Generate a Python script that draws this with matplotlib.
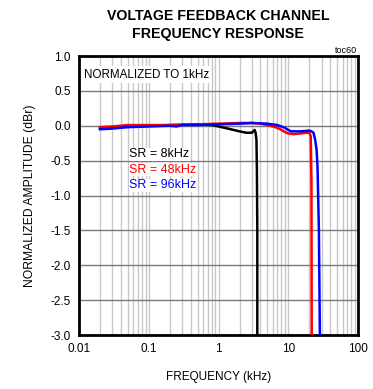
import matplotlib
matplotlib.use("Agg")
import matplotlib.pyplot as plt
from matplotlib.ticker import LogLocator, FixedLocator, NullFormatter
import numpy as np

plt.rcParams['font.family'] = ['Liberation Sans', 'DejaVu Sans']

# frequency (kHz) / normalized amplitude (dBr) for each sample rate
freq_8k = [0.02, 0.03, 0.05, 0.1, 0.2, 0.5, 0.8, 1.0, 1.5, 2.0, 2.5, 3.0, 3.3, 3.4, 3.5, 3.55, 3.6, 3.6]
amp_8k = [-0.03, -0.02, -0.01, 0.0, 0.01, 0.02, 0.01, -0.01, -0.05, -0.08, -0.1, -0.1, -0.06, -0.1, -0.2, -0.6, -1.5, -3.0]

freq_48k = [0.02, 0.03, 0.05, 0.1, 0.2, 0.5, 1, 2, 3, 4, 5, 6, 7, 8, 9, 10, 12, 15, 18, 20, 21, 21.5, 21.7]
amp_48k = [-0.02, -0.01, 0.01, 0.01, 0.01, 0.02, 0.03, 0.04, 0.04, 0.03, 0.01, -0.01, -0.03, -0.06, -0.09, -0.11, -0.12, -0.11, -0.1, -0.1, -0.15, -0.8, -3.0]

freq_96k = [0.02, 0.03, 0.05, 0.1, 0.2, 0.25, 0.3, 0.5, 1, 2, 3, 5, 7, 9, 10, 11, 15, 20, 21.5, 23, 24.3, 25.5, 26.3, 27.5, 28.4]
amp_96k = [-0.05, -0.04, -0.02, -0.01, 0.0, -0.01, 0.01, 0.01, 0.02, 0.03, 0.04, 0.03, 0.01, -0.03, -0.06, -0.08, -0.08, -0.07, -0.08, -0.1, -0.2, -0.35, -0.6, -1.5, -3.0]

series = [
    ("SR = 8kHz", freq_8k, amp_8k, "black"),
    ("SR = 48kHz", freq_48k, amp_48k, "#ff0000"),
    ("SR = 96kHz", freq_96k, amp_96k, "#0000ff"),
]

y_ticks = [1.0, 0.5, 0.0, -0.5, -1.0, -1.5, -2.0, -2.5, -3.0]
x_ticks = [0.01, 0.1, 1, 10, 100]
x_labels = ["0.01", "0.1", "1", "10", "100"]

fig = plt.figure(figsize=(3.73, 3.89), dpi=100)
ax = fig.add_axes([0.2118, 0.1388, 0.748, 0.7172])

for label, f, a, c in series:
    ax.plot(f, a, color=c, lw=1.8, solid_joinstyle="round", zorder=3)

ax.set_xscale("log")
ax.set_xlim(0.01, 100)
ax.set_ylim(-3.0, 1.0)

ax.xaxis.set_major_locator(FixedLocator(x_ticks))
ax.set_xticklabels(x_labels)
ax.xaxis.set_minor_locator(LogLocator(base=10, subs=np.arange(2, 10)))
ax.xaxis.set_minor_formatter(NullFormatter())
ax.set_yticks(y_ticks)
ax.set_yticklabels([f"{v:.1f}" for v in y_ticks])

# light vertical grid at every log step, darker horizontal grid
ax.grid(True, axis="x", which="both", color="#c8c8c8", lw=1.0, zorder=0)
ax.grid(True, axis="y", which="major", color="#7a7a7a", lw=1.0, zorder=1)
ax.tick_params(which="both", length=0, labelsize=8.5, pad=6)

for s in ax.spines.values():
    s.set_linewidth(2)

ax.set_xlabel("FREQUENCY (kHz)", fontsize=8.5, labelpad=11)
ax.set_ylabel("NORMALIZED AMPLITUDE (dBr)", fontsize=8.7, labelpad=10)

fig.text(0.585, 0.936, "VOLTAGE FEEDBACK CHANNEL\nFREQUENCY RESPONSE", ha="center", va="center",
         fontsize=10.2, fontweight="bold", linespacing=1.3)
fig.text(0.958, 0.858, "toc60", ha="right", va="bottom", fontsize=6.5)

ax.text(0.018, 0.955, "NORMALIZED TO 1kHz", transform=ax.transAxes, ha="left", va="top", fontsize=8.4,
        bbox=dict(facecolor="white", edgecolor="none", pad=1.5), zorder=4)

for i, (label, f, a, c) in enumerate(series):
    ax.text(0.18, 0.647 - i * 0.055, label, transform=ax.transAxes, color=c, ha="left", va="center",
            fontsize=9, bbox=dict(facecolor="white", edgecolor="none", pad=0.3), zorder=4)

fig.savefig("out.png", dpi=100)
